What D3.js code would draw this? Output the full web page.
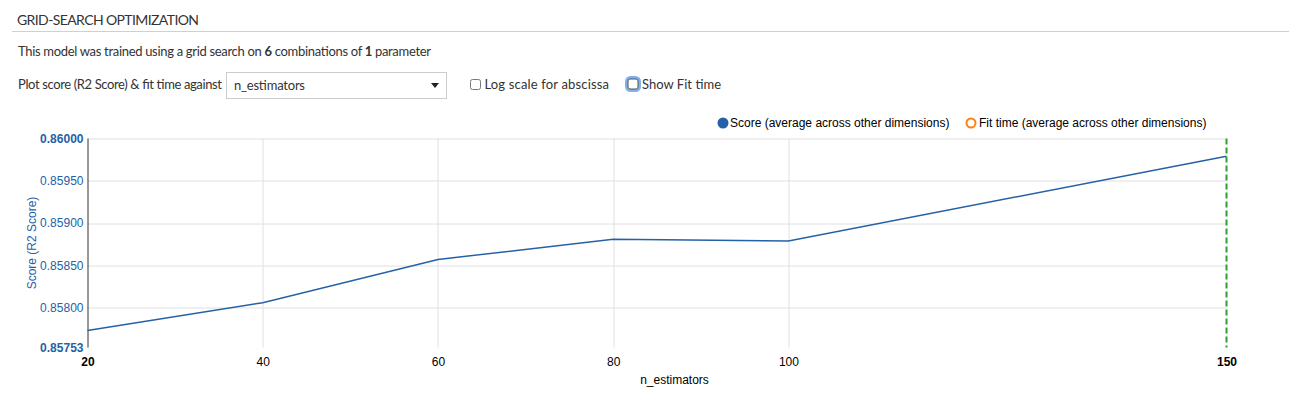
<!DOCTYPE html>
<html>
<head>
<meta charset="utf-8">
<script src="https://cdn.jsdelivr.net/npm/d3@7"></script>
<style>
  body { margin: 0; background: #fff; }
  svg { display: block; }
  .ui { font-family: Lato, "Source Sans Pro", "Open Sans", sans-serif; fill: #333; }
  .chart text { font-family: "Liberation Sans", Arial, sans-serif; }
</style>
</head>
<body>
<script>
  // data
  var xValues = [20, 40, 60, 80, 100, 150];
  var scores = [0.85773, 0.85806, 0.85857, 0.85881, 0.85879, 0.85979];
  var yTicks = [0.85753, 0.858, 0.8585, 0.859, 0.8595, 0.86];
  var legendLabels = ["Score (average across other dimensions)", "Fit time (average across other dimensions)"];
  var bestX = 150;

  var width = 1289, height = 397;
  var margin = {top: 138.5, right: 62.5, bottom: 49.5, left: 87.5};
  var plotW = width - margin.left - margin.right;
  var plotH = height - margin.top - margin.bottom;

  var blue = "#2561a6", orange = "#ff7f0e", green = "#2ca02c";

  var svg = d3.select("body").append("svg")
    .attr("width", width)
    .attr("height", height);

  // header part
  var ui = svg.append("g").attr("class", "ui");
  ui.append("text").attr("x", 17).attr("y", 25)
    .style("font-size", "14px").attr("textLength", 182)
    .text("GRID-SEARCH OPTIMIZATION");
  ui.append("line").attr("x1", 12).attr("x2", width).attr("y1", 31.5).attr("y2", 31.5)
    .attr("stroke", "#d0d0d0");

  var t2 = ui.append("text").attr("x", 18).attr("y", 56).style("font-size", "13px").attr("textLength", 413);
  t2.append("tspan").text("This model was trained using a grid search on ");
  t2.append("tspan").style("font-weight", "bold").text("6");
  t2.append("tspan").text(" combinations of ");
  t2.append("tspan").style("font-weight", "bold").text("1");
  t2.append("tspan").text(" parameter");

  ui.append("text").attr("x", 18).attr("y", 89).style("font-size", "13px").attr("textLength", 204)
    .text("Plot score (R2 Score) & fit time against");
  ui.append("rect").attr("x", 226.5).attr("y", 72.5).attr("width", 220).attr("height", 26)
    .attr("fill", "#fff").attr("stroke", "#ccc");
  ui.append("text").attr("x", 234).attr("y", 90).style("font-size", "13px").attr("textLength", 71).text("n_estimators");
  ui.append("path").attr("d", "M431,83 L439,83 L435,88 Z").attr("fill", "#222");

  ui.append("rect").attr("x", 470.5).attr("y", 79.5).attr("width", 10).attr("height", 10).attr("rx", 2)
    .attr("fill", "#fff").attr("stroke", "#777");
  ui.append("text").attr("x", 484.5).attr("y", 89).style("font-size", "13px").attr("textLength", 124.5).text("Log scale for abscissa");

  ui.append("rect").attr("x", 626.5).attr("y", 77.5).attr("width", 13).attr("height", 13).attr("rx", 4)
    .attr("fill", "none").attr("stroke", "#7fb0f0").attr("stroke-width", 3);
  ui.append("rect").attr("x", 628).attr("y", 79).attr("width", 10).attr("height", 10).attr("rx", 2)
    .attr("fill", "#fff").attr("stroke", "#555");
  ui.append("text").attr("x", 642).attr("y", 89).style("font-size", "13px").attr("textLength", 79).text("Show Fit time");

  // chart part
  var chart = svg.append("g").attr("class", "chart");
  var g = chart.append("g").attr("transform", "translate(" + margin.left + "," + margin.top + ")");

  var x = d3.scaleLinear().domain([d3.min(xValues), d3.max(xValues)]).range([0, plotW]);
  var y = d3.scaleLinear().domain([d3.min(yTicks), d3.max(yTicks)]).range([plotH, 0]);

  // gridlines
  g.selectAll("line.hgrid").data(yTicks.slice(1)).enter().append("line")
    .attr("class", "hgrid")
    .attr("x1", 0).attr("x2", plotW)
    .attr("y1", function(d) { return Math.round(y(d)) + 0.5; })
    .attr("y2", function(d) { return Math.round(y(d)) + 0.5; })
    .attr("stroke", "#e0e0e0");
  g.selectAll("line.vgrid").data(xValues.slice(1, -1)).enter().append("line")
    .attr("class", "vgrid")
    .attr("x1", function(d) { return Math.round(x(d)) + 0.5; })
    .attr("x2", function(d) { return Math.round(x(d)) + 0.5; })
    .attr("y1", 0).attr("y2", plotH)
    .attr("stroke", "#e0e0e0");

  // x axis
  var xAxis = g.append("g").attr("transform", "translate(0," + plotH + ")")
    .call(d3.axisBottom(x).tickValues(xValues).tickSize(0).tickPadding(10).tickFormat(d3.format("d")));
  xAxis.select(".domain").remove();
  xAxis.selectAll("text").style("font-size", "12px").attr("fill", "#000")
    .style("font-weight", function(d) { return (d === xValues[0] || d === xValues[xValues.length - 1]) ? "bold" : "normal"; });

  // y axis
  var yAxis = g.append("g")
    .call(d3.axisLeft(y).tickValues(yTicks).tickSize(0).tickPadding(4).tickFormat(d3.format(".5f")));
  yAxis.select(".domain").attr("stroke", "#333").attr("d", "M0.5,0V" + plotH);
  yAxis.selectAll("text").style("font-size", "12px").attr("fill", blue)
    .style("font-weight", function(d) { return (d === yTicks[0] || d === yTicks[yTicks.length - 1]) ? "bold" : "normal"; });

  g.append("text")
    .attr("transform", "translate(-52," + (plotH / 2) + ") rotate(-90)")
    .attr("text-anchor", "middle")
    .style("font-size", "12px").attr("fill", blue)
    .text("Score (R2 Score)");

  g.append("text")
    .attr("x", x(87)).attr("y", plotH + 36)
    .attr("text-anchor", "middle")
    .style("font-size", "12px").attr("fill", "#000")
    .text("n_estimators");

  // score line
  var line = d3.line()
    .x(function(d, i) { return x(xValues[i]); })
    .y(function(d) { return y(d); });
  g.append("path").datum(scores)
    .attr("d", line)
    .attr("fill", "none")
    .attr("stroke", blue)
    .attr("stroke-width", 1.5);

  // best value marker
  g.append("line")
    .attr("x1", x(bestX)).attr("x2", x(bestX))
    .attr("y1", 0).attr("y2", plotH)
    .attr("stroke", green).attr("stroke-width", 2)
    .attr("stroke-dasharray", "6,3");

  // legend
  var legend = chart.append("g").attr("transform", "translate(0,123)");
  legend.append("circle").attr("cx", 723).attr("cy", 0).attr("r", 5.5).attr("fill", blue);
  legend.append("text").attr("x", 730).attr("y", 4).style("font-size", "12px").attr("fill", "#000")
    .text(legendLabels[0]);
  legend.append("circle").attr("cx", 971).attr("cy", 0).attr("r", 4.5)
    .attr("fill", "#fff").attr("stroke", orange).attr("stroke-width", 2);
  legend.append("text").attr("x", 979).attr("y", 4).style("font-size", "12px").attr("fill", "#000")
    .text(legendLabels[1]);
</script>
</body>
</html>
